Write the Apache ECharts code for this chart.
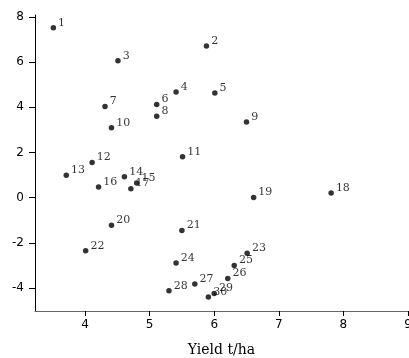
<!DOCTYPE html>
<html><head><meta charset="utf-8">
<script src="https://cdn.jsdelivr.net/npm/echarts@6/dist/echarts.min.js"></script>
<style>html,body{margin:0;padding:0;background:#fff}#c{width:409px;height:358px}</style>
</head><body><div id="c"></div>
<script>
const labels = ['1','2','3','4','5','6','7','8','9','10','11','12','13','14','15','16','17','18','19','20','21','22','23','24','25','26','27','28','29','30'];
const yieldX = [3.51,5.88,4.51,5.41,6.01,5.11,4.31,5.11,6.50,4.41,5.51,4.11,3.71,4.61,4.80,4.21,4.71,7.81,6.61,4.41,5.50,4.01,6.51,5.41,6.31,6.21,5.70,5.30,6.00,5.91];
const valueY = [7.52,6.72,6.06,4.68,4.63,4.13,4.04,3.61,3.35,3.10,1.81,1.56,0.99,0.93,0.65,0.47,0.40,0.21,0.01,-1.22,-1.45,-2.35,-2.46,-2.89,-3.00,-3.58,-3.82,-4.12,-4.25,-4.40];
const xTicks = [4,5,6,7,8,9];
const yTicks = [-4,-2,0,2,4,6,8];
const xName = 'Yield t/ha';

const data = labels.map((n,i)=>({name:n, value:[yieldX[i], valueY[i]]}));
const chart = echarts.init(document.getElementById('c'));
chart.setOption({
  animation:false,
  grid:{left:35, right:1, top:15, bottom:47, outerBoundsMode:'none', containLabel:false},
  xAxis:{type:'value', min:3.226, max:9,
    name:xName, nameLocation:'middle', nameGap:32,
    nameTextStyle:{fontFamily:'DejaVu Serif', fontSize:14, color:'#000'},
    axisLine:{show:true, onZero:false, lineStyle:{color:'#666', width:1}},
    axisTick:{show:true, customValues:xTicks, length:5, lineStyle:{color:'#000'}},
    axisLabel:{customValues:xTicks, showMaxLabel:true, fontFamily:'DejaVu Sans', fontSize:12, color:'#000', margin:8},
    splitLine:{show:false}},
  yAxis:{type:'value', min:-5.02, max:8.09,
    axisLine:{show:true, onZero:false, lineStyle:{color:'#000', width:1}},
    axisTick:{show:true, customValues:yTicks, length:6, lineStyle:{color:'#000'}},
    axisLabel:{customValues:yTicks, fontFamily:'DejaVu Sans', fontSize:12, color:'#000', margin:11},
    splitLine:{show:false}},
  series:[{type:'scatter', data:data, symbolSize:5.5, itemStyle:{color:'#000'},
    label:{show:true, formatter:'{b}', position:'right', distance:2, offset:[0,-5],
      fontFamily:'DejaVu Serif', fontSize:11, color:'#000'}}]
});
</script></body></html>
